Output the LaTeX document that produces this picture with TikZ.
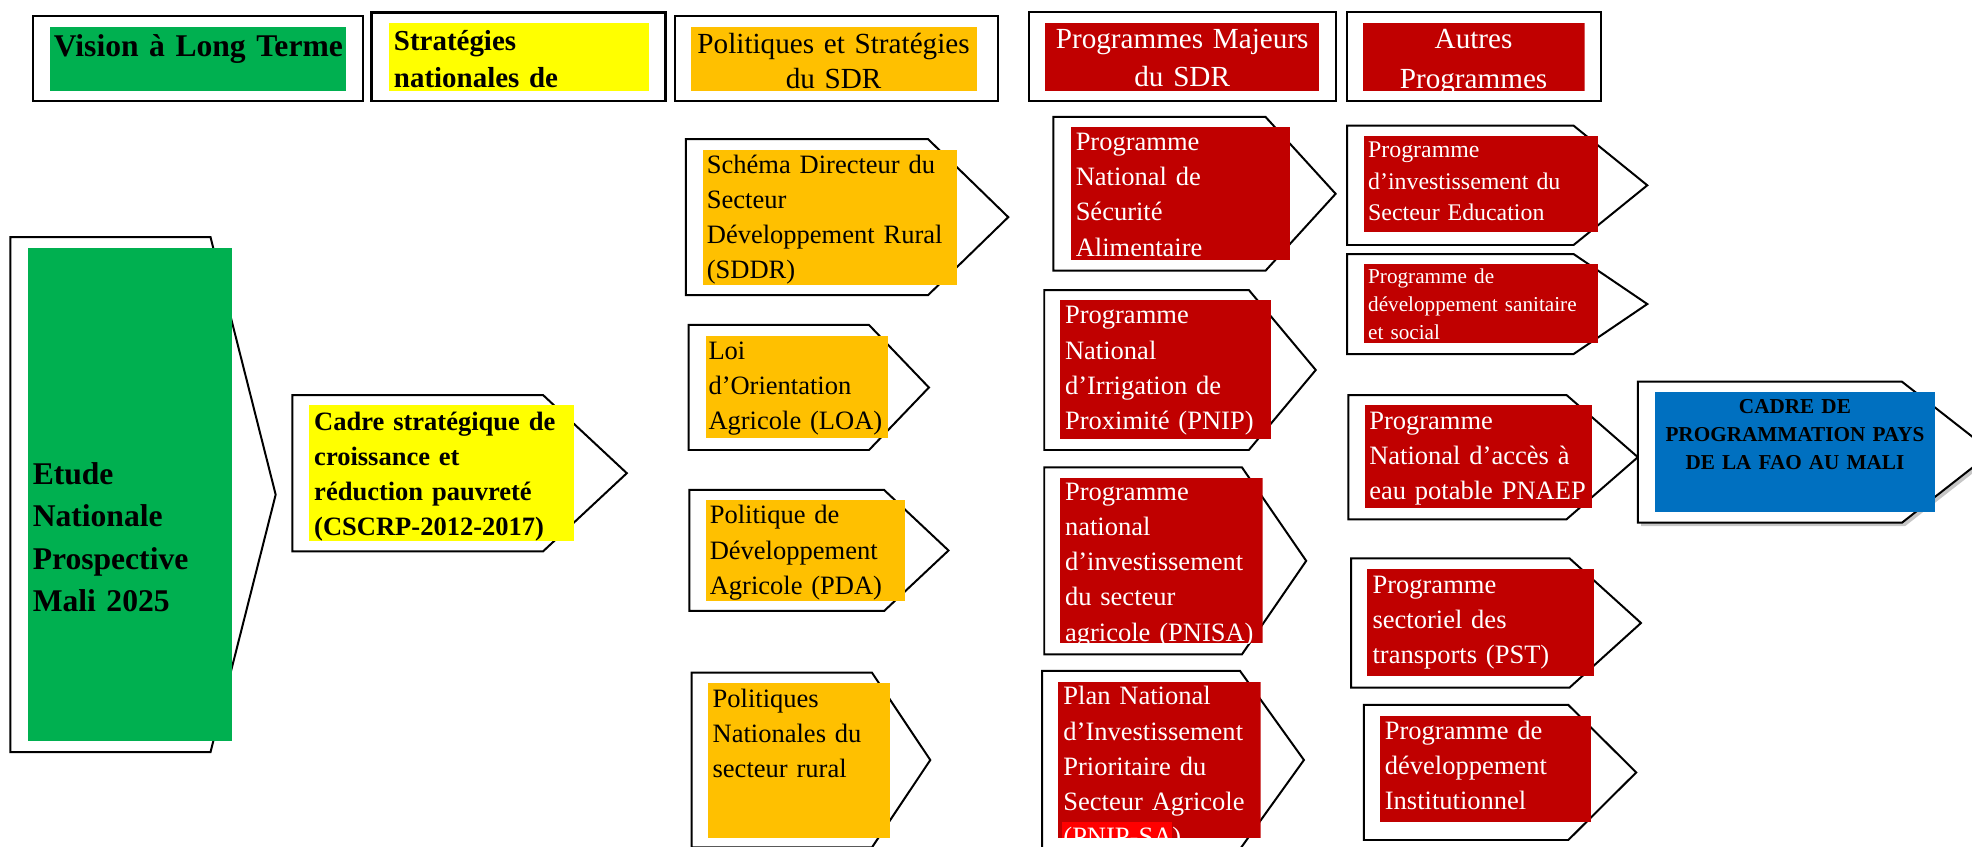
\documentclass[tikz,border=0pt]{standalone}
\usepackage{fontspec}
\setmainfont{Liberation Serif}
\usetikzlibrary{shadows}

\definecolor{vert}{HTML}{00B050}
\definecolor{jaune}{HTML}{FFFF00}
\definecolor{orng}{HTML}{FFC000}
\definecolor{rouge}{HTML}{C00000}
\definecolor{vif}{HTML}{FF0000}
\definecolor{bleu}{HTML}{0070C0}

% chevron outline: left x, top y, shoulder x, tip x, bottom y
\newcommand{\chev}[6][]{%
  \draw[chev,#1] (#2,#3) -- (#4,#3) -- (#5,{(#3+#6)/2}) -- (#4,#6) -- (#2,#6) -- cycle;}

\begin{document}
\begin{tikzpicture}[x=0.02cm, y=-0.02cm,
  chev/.style={draw, line width=0.9pt, fill=white},
  cadre/.style={draw, line width=0.9pt},
  txt/.style={inner sep=0pt, anchor=base west, align=left, text width=5cm,
              font={\fontsize{12}{15.9}\selectfont}},
  wtxt/.style={txt, text=white},
  head/.style={inner sep=0pt, anchor=base, align=center, text width=6cm,
               font={\fontsize{13.2}{15.8}\selectfont}},
]
\useasboundingbox (0,0) rectangle (1568,673);

% header row
\draw[cadre] (26.4,12.5) rectangle (289,80.3);
\fill[vert] (39.5,21.2) rectangle (275.4,72.1);
\node[head, font={\bfseries\fontsize{14.3}{18}\selectfont}] (vision) at (157.7,45) {Vision à Long Terme};

\draw[cadre, line width=1.2pt] (295.6,9.8) rectangle (528.9,80.3);
\begin{scope}
  \clip (309.3,18) rectangle (516.3,72.1);
  \fill[jaune] (309.3,18) rectangle (516.3,72.1);
  \node[txt, font={\bfseries\fontsize{13.1}{16.8}\selectfont}] (strat) at (312.9,39.8) {Stratégies\\nationales de};
\end{scope}

\draw[cadre] (536.5,12.5) rectangle (793.7,80.3);
\begin{scope}
  \clip (549.2,21.2) rectangle (776.9,72.1);
  \fill[orng] (549.2,21.2) rectangle (776.9,72.1);
  \node[head] (polsdr) at (662.8,42.4) {Politiques et Stratégies\\du SDR};
\end{scope}

\draw[cadre] (818.2,9.3) rectangle (1062.3,80.3);
\fill[rouge] (831.1,18) rectangle (1048.9,72.1);
\node[head, text=white, font={\fontsize{13.2}{17.3}\selectfont}] (progmaj) at (940,38.4) {Programmes Majeurs\\du SDR};

\draw[cadre] (1071.1,9.3) rectangle (1273.2,80.3);
\begin{scope}
  \clip (1083.4,18) rectangle (1259.9,72.1);
  \fill[rouge] (1083.4,18) rectangle (1259.9,72.1);
  \node[head, text=white, font={\fontsize{13.2}{18}\selectfont}] (autres) at (1171.7,38.4) {Autres\\Programmes};
\end{scope}

% vision and national strategy
\chev{8.2}{188.6}{167.4}{219.2}{598}
\fill[vert] (22.4,197) rectangle (184.6,588.8);
\node[txt, font={\bfseries\fontsize{14.3}{19.2}\selectfont}] (etude) at (25.7,385) {Etude\\Nationale\\Prospective\\Mali 2025};

\chev{232.4}{314.1}{431.8}{498.4}{438.4}
\fill[jaune] (245.5,322) rectangle (456.5,430.4);
\node[txt, font={\bfseries\fontsize{12}{15.8}\selectfont}] (cscrp) at (249.5,342.4) {Cadre stratégique de\\croissance et\\réduction pauvreté\\(CSCRP-2012-2017)};

% politiques et strategies du SDR
\chev{545.3}{110.7}{738}{801.7}{234.6}
\fill[orng] (559,119) rectangle (761,227);
\node[txt] (sddr) at (561.7,137.8) {Schéma Directeur du\\Secteur\\Développement Rural\\(SDDR)};

\chev{547.6}{258.4}{691}{738.6}{357.8}
\fill[orng] (561.7,267) rectangle (705.7,348.5);
\node[txt] (loa) at (563,285.7) {Loi\\d’Orientation\\Agricole (LOA)};

\chev{548.2}{389.6}{703}{754.2}{485.8}
\fill[orng] (561.7,397.5) rectangle (719.9,477.6);
\node[txt] (pda) at (564,416.6) {Politique de\\Développement\\Agricole (PDA)};

\chev{549.9}{534.8}{693.3}{739.7}{673.8}
\fill[orng] (563,542.8) rectangle (707.4,666.6);
\node[txt] (polnat) at (566.3,562.4) {Politiques\\Nationales du\\secteur rural};

% programmes majeurs du SDR
\chev{837.6}{93}{1006.3}{1062}{215.2}
\fill[rouge] (851.4,100.7) rectangle (1025.5,206.7);
\node[wtxt] (pnsa) at (855,119.8) {Programme\\National de\\Sécurité\\Alimentaire};

\chev{830.3}{230.6}{993}{1046.2}{357.8}
\fill[rouge] (842.8,238.5) rectangle (1010.6,348.8);
\node[wtxt] (pnip) at (846.5,257.6) {Programme\\National\\d’Irrigation de\\Proximité (PNIP)};

\chev{830.3}{371.6}{987.5}{1038.6}{520.3}
\begin{scope}
  \clip (842.8,380.3) rectangle (1004,511.5);
  \fill[rouge] (842.8,380.3) rectangle (1004,511.5);
  \node[wtxt] (pnisa) at (846.5,398) {Programme\\national\\d’investissement\\du secteur\\agricole (PNISA)};
\end{scope}

\chev{828.7}{533.5}{986}{1036.8}{675.1}
\begin{scope}
  \clip (841.2,542) rectangle (1002.4,666.6);
  \fill[rouge] (841.2,542) rectangle (1002.4,666.6);
  \fill[vif] (844.4,653.3) rectangle (931.5,666.6);
  \node[wtxt] (pnipsa) at (845.2,560.5) {Plan National\\d’Investissement\\Prioritaire du\\Secteur Agricole\\(PNIP-SA)};
\end{scope}

% autres programmes
\chev{1071.2}{99.9}{1251.2}{1309.8}{194.8}
\fill[rouge] (1084.2,108.1) rectangle (1270.7,184.2);
\node[wtxt, font={\fontsize{10.8}{14.3}\selectfont}] (educ) at (1087.5,125.4) {Programme\\d’investissement du\\Secteur Education};

\chev{1071.2}{202}{1251.2}{1309.8}{281.5}
\fill[rouge] (1084.2,209.9) rectangle (1270.7,273);
\node[wtxt, font={\fontsize{9.6}{12.75}\selectfont}] (sante) at (1087.5,225.3) {Programme de\\développement sanitaire\\et social};

\chev{1072.1}{314.1}{1245.6}{1302.3}{412.9}
\fill[rouge] (1085.2,322) rectangle (1265.9,404.2);
\node[wtxt] (pnaep) at (1088.4,341.4) {Programme\\National d’accès à\\eau potable PNAEP};

\chev{1074.4}{443.9}{1247.9}{1304.8}{546.8}
\fill[rouge] (1086.7,452.7) rectangle (1267.4,537.2);
\node[wtxt] (pst) at (1091,471.8) {Programme\\sectoriel des\\transports (PST)};

\chev{1084.5}{560.5}{1247}{1301}{667.9}
\fill[rouge] (1097.2,569.3) rectangle (1264.9,653.3);
\node[wtxt] (inst) at (1100.8,587.8) {Programme de\\développement\\Institutionnel};

% cadre de programmation pays
\chev[drop shadow={shadow xshift=1.5pt, shadow yshift=-1.5pt, opacity=0.45}]{1302.3}{303.5}{1512.3}{1584}{415.6}
\fill[bleu] (1315.7,311.4) rectangle (1538.6,406.8);
\node[head, font={\bfseries\fontsize{9.6}{12.8}\selectfont}] (fao) at (1427.2,328.6) {CADRE DE\\PROGRAMMATION PAYS\\DE LA FAO AU MALI};
\end{tikzpicture}
\end{document}
